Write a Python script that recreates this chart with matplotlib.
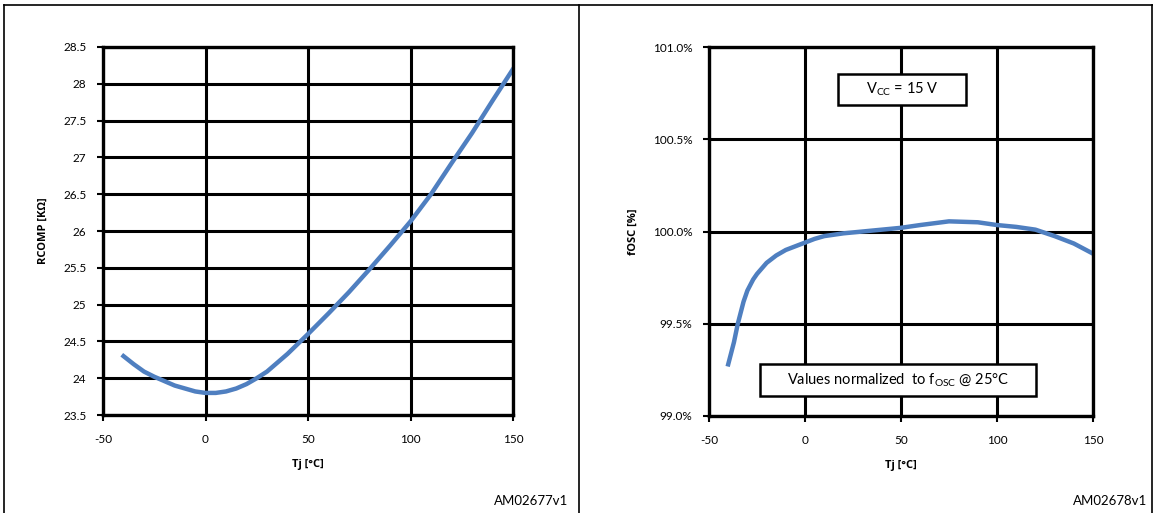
import matplotlib
matplotlib.use("Agg")
import matplotlib.pyplot as plt
from matplotlib.lines import Line2D
from matplotlib.patches import Rectangle

plt.rcParams["font.family"] = ["Lato", "DejaVu Sans"]
plt.rcParams["axes.unicode_minus"] = False

# RCOMP vs Tj
tj_r = [-40, -35, -30, -25, -20, -15, -10, -5, 0, 5, 10, 15, 20, 25, 30, 40, 50, 60, 70, 80,
        90, 100, 110, 120, 130, 140, 150]
rcomp = [24.30, 24.19, 24.09, 24.02, 23.96, 23.90, 23.86, 23.82, 23.80, 23.80, 23.82, 23.86,
         23.92, 24.00, 24.09, 24.33, 24.60, 24.88, 25.17, 25.48, 25.80, 26.13, 26.50, 26.92,
         27.33, 27.77, 28.20]

# fOSC vs Tj (normalized, %)
tj_f = [-40, -37, -35, -32, -30, -27, -25, -20, -15, -10, -5, 0, 5, 10, 20, 30, 40, 50, 60,
        75, 90, 100, 110, 120, 130, 140, 150]
fosc = [99.28, 99.40, 99.50, 99.62, 99.68, 99.74, 99.77, 99.83, 99.87, 99.90, 99.92, 99.94,
        99.96, 99.975, 99.99, 100.00, 100.01, 100.02, 100.035, 100.055, 100.05, 100.035,
        100.025, 100.01, 99.975, 99.935, 99.88]

W, H = 1153, 513
LINE_C = "#4F7FC0"
LABEL_FONT = ["Open Sans", "DejaVu Sans"]

fig = plt.figure(figsize=(W / 100, H / 100), dpi=100)


def px_axes(x0, x1, ytop, ybot):
    return fig.add_axes([x0 / W, 1 - ybot / H, (x1 - x0) / W, (ybot - ytop) / H])


def style(ax):
    ax.grid(True, color="black", linewidth=2.2)
    for s in ax.spines.values():
        s.set_linewidth(2.4)
    ax.tick_params(length=4, width=1.5, labelsize=8.5)
    ax.tick_params(axis="x", pad=10)
    ax.tick_params(axis="y", pad=8)
    ax.set_axisbelow(True)


def label_box(ax, x0, x1, y0, y1, text):
    ax.add_patch(Rectangle((x0, y0), x1 - x0, y1 - y0, transform=ax.transAxes,
                           facecolor="white", edgecolor="black", linewidth=1.8, zorder=5))
    ax.text((x0 + x1) / 2, (y0 + y1) / 2, text, transform=ax.transAxes, ha="center",
            va="center", fontsize=10.5, zorder=6)


# left panel
ax1 = px_axes(103, 513, 47, 415)
ax1.plot(tj_r, rcomp, color=LINE_C, linewidth=3.2)
ax1.set_xlim(-50, 150)
ax1.set_ylim(23.5, 28.5)
ax1.set_xticks([-50, 0, 50, 100, 150])
ax1.set_yticks([23.5, 24, 24.5, 25, 25.5, 26, 26.5, 27, 27.5, 28, 28.5])
ax1.set_yticklabels(["23.5", "24", "24.5", "25", "25.5", "26", "26.5", "27", "27.5", "28", "28.5"])
style(ax1)
ax1.set_xlabel("Tj [°C]", fontsize=8, fontweight="bold", family=LABEL_FONT, labelpad=10)
ax1.set_ylabel("RCOMP [KΩ]", fontsize=8, fontweight="bold", family=LABEL_FONT, labelpad=10)

# right panel
ax2 = px_axes(709, 1093, 47, 416)
ax2.plot(tj_f, fosc, color=LINE_C, linewidth=3.2)
ax2.set_xlim(-50, 150)
ax2.set_ylim(99.0, 101.0)
ax2.set_xticks([-50, 0, 50, 100, 150])
ax2.set_yticks([99.0, 99.5, 100.0, 100.5, 101.0])
ax2.set_yticklabels(["99.0%", "99.5%", "100.0%", "100.5%", "101.0%"])
style(ax2)
ax2.set_xlabel("Tj [°C]", fontsize=8, fontweight="bold", family=LABEL_FONT, labelpad=10)
ax2.set_ylabel("fOSC [%]", fontsize=8, fontweight="bold", family=LABEL_FONT, labelpad=10)

label_box(ax2, 0.336, 0.669, 0.843, 0.927, r"V$_{\mathregular{CC}}$ = 15 V")
label_box(ax2, 0.133, 0.852, 0.054, 0.141, r"Values normalized  to f$_{\mathregular{OSC}}$ @ 25°C")

# panel frames
for xs, ys in [([4, 4], [5, 513]), ([579, 579], [5, 513]), ([1152, 1152], [5, 513]),
               ([4, 1153], [5, 5])]:
    fig.add_artist(Line2D([x / W for x in xs], [1 - y / H for y in ys],
                          color="black", linewidth=1.2))

fig.text(568 / W, 1 - 501 / H, "AM02677v1", ha="right", va="center", fontsize=9.5)
fig.text(1147 / W, 1 - 501 / H, "AM02678v1", ha="right", va="center", fontsize=9.5)

fig.savefig("out.png", dpi=100)
